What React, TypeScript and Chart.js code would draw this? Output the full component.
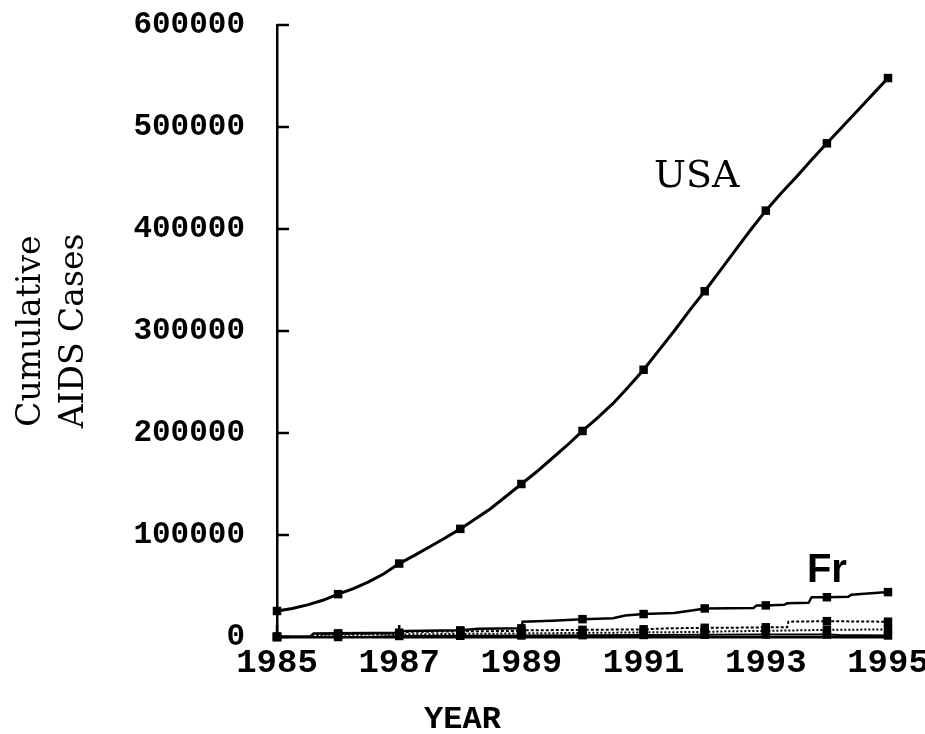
import { useEffect, useRef } from 'react';
import { Chart, registerables } from 'chart.js';

Chart.register(...registerables);

// ---- data ----
const usaYears = [
  1985, 1985.25, 1985.5, 1985.75, 1986, 1986.25, 1986.5, 1986.75, 1987, 1987.25, 1987.5, 1987.75,
  1988, 1988.25, 1988.5, 1988.75, 1989, 1989.25, 1989.5, 1989.75, 1990, 1990.25, 1990.5, 1990.75,
  1991, 1991.25, 1991.5, 1991.75, 1992, 1992.25, 1992.5, 1992.75, 1993, 1993.25, 1993.5, 1993.75,
  1994, 1994.25, 1994.5, 1994.75, 1995,
];
const usaCases = [
  25500, 28000, 31500, 36000, 42000, 47500, 54000, 62000, 72000, 80000, 88500, 97000,
  106000, 116000, 126000, 138000, 150000, 162000, 175000, 188000, 202000, 215000, 229000, 245000,
  262000, 281000, 300000, 320000, 339000, 359000, 379000, 399000, 418000, 435000, 451000, 468000,
  484000, 500000, 516000, 532000, 548000,
];

const frYears = [
  1985, 1985.55, 1985.6, 1986, 1986.5, 1987, 1987.1, 1988, 1988.3, 1989, 1989.02, 1989.5, 1990,
  1990.5, 1990.7, 1991, 1991.5, 1991.9, 1992, 1992.8, 1992.85, 1993, 1993.3, 1993.35, 1993.7,
  1993.75, 1994, 1994.35, 1994.4, 1995,
];
const frCases = [
  500, 800, 3500, 3600, 3800, 4200, 6000, 6500, 8000, 8500, 15000, 16000, 17500,
  18500, 21000, 22500, 23500, 27000, 28000, 28500, 31000, 31000, 31500, 33000, 33500,
  39000, 39000, 39500, 41500, 44000,
];

const otherAYears = [
  1985, 1985.55, 1985.6, 1986, 1987, 1987.1, 1988, 1989, 1989.02, 1990, 1991, 1991.4, 1992,
  1992.3, 1993, 1993.35, 1993.37, 1994, 1995,
];
const otherACases = [
  0, 0, 2500, 2800, 3500, 5000, 5500, 6000, 6500, 7000, 7500, 8500, 9000,
  9000, 9500, 9500, 15000, 15500, 15000,
];

const otherBYears = [1985, 1985.6, 1985.65, 1986, 1987, 1988, 1989, 1990, 1991, 1992, 1992.3, 1993, 1994, 1994.2, 1995];
const otherBCases = [0, 0, 2000, 2200, 2500, 3000, 3500, 4000, 4500, 5000, 5500, 6000, 7000, 7000, 7500];

const otherCYears = [1985, 1986, 1986.5, 1987, 1988, 1989, 1990, 1991, 1992, 1993, 1994, 1994.2, 1995];
const otherCCases = [0, 0, 0, 1000, 1200, 1500, 1800, 2000, 2200, 2500, 2500, 2000, 1500];

const xTickYears = [1985, 1987, 1989, 1991, 1993, 1995];
const yTickValues = [0, 100000, 200000, 300000, 400000, 500000, 600000];

const usaLabel = { text: 'USA', year: 1991.87, cases: 451000 };
const frLabel = { text: 'Fr', year: 1994.0, cases: 64700 };

const pts = (xs: number[], ys: number[]) => xs.map((x, i) => ({ x, y: ys[i] }));

const yearMarker = (r: number) => (ctx: any) =>
  ctx.raw && Number.isInteger(ctx.raw.x) ? r : 0;

const inwardTicks = {
  id: 'inwardTicks',
  afterDraw(chart: any) {
    const { ctx, chartArea } = chart;
    const xs = chart.scales.x;
    const ys = chart.scales.y;
    ctx.save();
    ctx.strokeStyle = '#000';
    ctx.lineWidth = 2.5;
    ctx.beginPath();
    yTickValues.forEach((v) => {
      const p = ys.getPixelForValue(v);
      ctx.moveTo(chartArea.left, p);
      ctx.lineTo(chartArea.left + 12, p);
    });
    xTickYears.forEach((v) => {
      const p = xs.getPixelForValue(v);
      ctx.moveTo(p, chartArea.bottom);
      ctx.lineTo(p, chartArea.bottom - 12);
    });
    ctx.stroke();
    ctx.restore();
  },
};

const seriesLabels = {
  id: 'seriesLabels',
  afterDraw(chart: any) {
    const { ctx } = chart;
    const xs = chart.scales.x;
    const ys = chart.scales.y;
    ctx.save();
    ctx.fillStyle = '#000';
    ctx.textAlign = 'center';
    ctx.textBaseline = 'middle';
    ctx.font = '38px "DejaVu Serif"';
    ctx.fillText(usaLabel.text, xs.getPixelForValue(usaLabel.year), ys.getPixelForValue(usaLabel.cases));
    ctx.font = 'bold 40px "Liberation Sans"';
    ctx.fillText(frLabel.text, xs.getPixelForValue(frLabel.year), ys.getPixelForValue(frLabel.cases));
    ctx.restore();
  },
};

const yTickFont = { family: '"Liberation Mono"', weight: 'bold' as const, size: 31 };
const xTickFont = { family: '"Liberation Mono"', weight: 'bold' as const, size: 34 };

export default function App() {
  const ref = useRef<HTMLCanvasElement>(null);
  useEffect(() => {
    document.body.style.margin = '0';
    const lineDs = (label: string, data: any[], width: number, dash: number[] = []) => ({
      label,
      data,
      borderColor: '#000',
      backgroundColor: '#000',
      borderWidth: width,
      borderDash: dash,
      tension: 0,
      fill: false,
      clip: false as any,
      pointStyle: 'rect' as const,
      pointRadius: yearMarker(6),
      pointBorderWidth: 0,
      pointBackgroundColor: '#000',
    });
    const chart = new Chart(ref.current!, {
      type: 'line',
      data: {
        datasets: [
          lineDs('USA', pts(usaYears, usaCases), 3),
          lineDs('Fr', pts(frYears, frCases), 2.5),
          lineDs('Other A', pts(otherAYears, otherACases), 2, [3, 2]),
          lineDs('Other B', pts(otherBYears, otherBCases), 2, [2, 2]),
          lineDs('Other C', pts(otherCYears, otherCCases), 2),
        ],
      },
      options: {
        responsive: false,
        animation: false,
        devicePixelRatio: 1,
        layout: { padding: { top: 25, right: 0, bottom: 0, left: 0 } },
        plugins: {
          legend: { display: false },
          tooltip: { enabled: false },
          title: {
            display: true,
            text: 'YEAR',
            position: 'bottom',
            color: '#000',
            font: { family: '"Liberation Mono"', weight: 'bold', size: 32, lineHeight: 0.875 },
            padding: { top: 30, bottom: 0 },
          },
        },
        scales: {
          x: {
            type: 'linear',
            min: 1985,
            max: 1995,
            afterBuildTicks: (scale: any) => {
              scale.ticks = xTickYears.map((v) => ({ value: v }));
            },
            afterFit: (scale: any) => {
              scale.height = 39;
              scale.paddingRight = 37;
            },
            grid: { display: false, drawTicks: false },
            border: { display: true, color: '#000', width: 2.5 },
            ticks: {
              color: '#000',
              font: xTickFont,
              padding: 6,
              maxRotation: 0,
              autoSkip: false,
              callback: (v: any) => String(v),
            },
          },
          y: {
            type: 'linear',
            min: 0,
            max: 600000,
            afterBuildTicks: (scale: any) => {
              scale.ticks = yTickValues.map((v) => ({ value: v }));
            },
            afterFit: (scale: any) => {
              scale.width = 277;
              scale.paddingTop = 0;
              scale.paddingBottom = 0;
            },
            grid: { display: false, drawTicks: false },
            border: { display: true, color: '#000', width: 2.5 },
            ticks: {
              color: '#000',
              font: yTickFont,
              padding: 32,
              autoSkip: false,
              callback: (v: any) => String(v),
            },
            title: {
              display: true,
              text: ['Cumulative', 'AIDS Cases'],
              color: '#000',
              font: { family: '"DejaVu Serif"', size: 33, lineHeight: 1.3 },
              padding: { top: 10, bottom: 0 },
            },
          },
        },
      },
      plugins: [inwardTicks, seriesLabels],
    });
    return () => chart.destroy();
  }, []);
  return (
    <div style={{ position: 'relative', width: 925, height: 734 }}>
      <canvas ref={ref} width={925} height={734} style={{ display: 'block' }} />
    </div>
  );
}
